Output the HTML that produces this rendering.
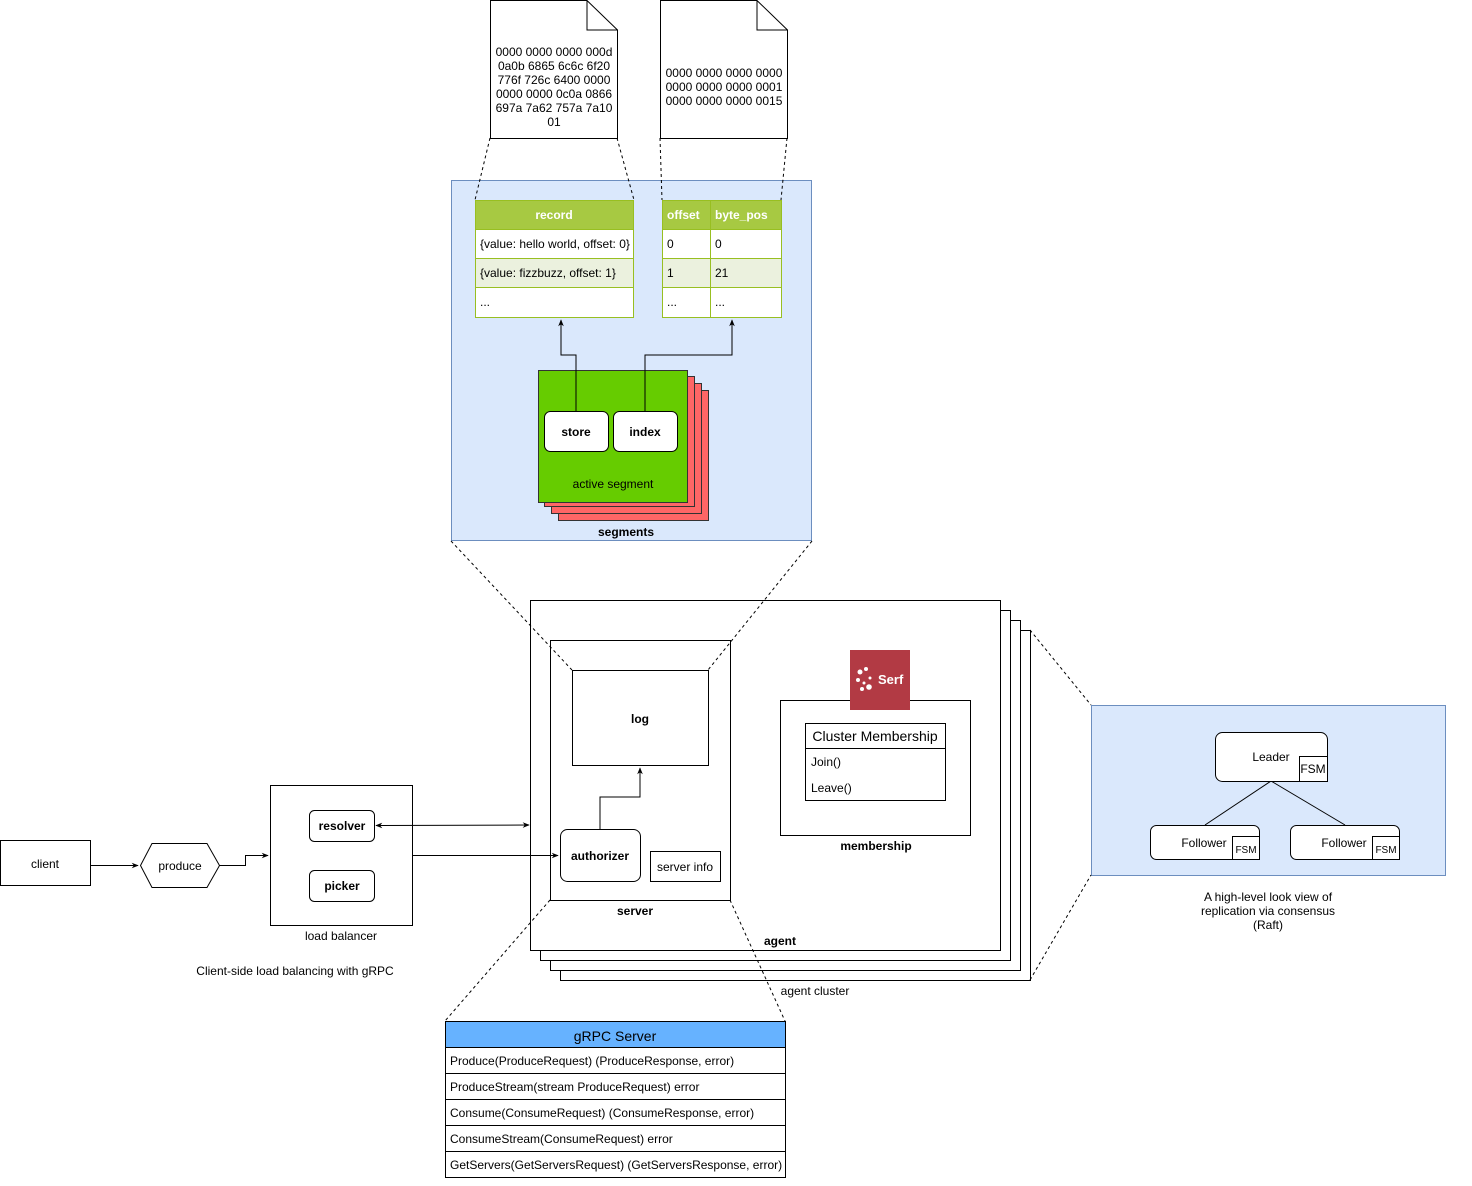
<!DOCTYPE html>
<html><head><meta charset="utf-8"><style>
html,body{margin:0;padding:0;background:#fff;}
svg text{font-family:"Liberation Sans",Arial,sans-serif;}
</style></head><body>
<svg width="1472" height="1181" xmlns="http://www.w3.org/2000/svg" font-size="12">
<defs>
<marker id="ar" viewBox="0 0 10 10" refX="9" refY="5" markerWidth="7" markerHeight="7" orient="auto-start-reverse"><path d="M0,1 L10,5 L0,9 L3,5 z" fill="#000"/></marker>
</defs>
<!-- docs -->
<path d="M490.5,0.5 H587 L617.5,30 V138.5 H490.5 Z" fill="#fff" stroke="#000"/>
<path d="M587,0.5 V30 H617.5" fill="none" stroke="#000"/>
<g font-size="12" text-anchor="middle">
<text x="554" y="56">0000 0000 0000 000d</text>
<text x="554" y="70">0a0b 6865 6c6c 6f20</text>
<text x="554" y="84">776f 726c 6400 0000</text>
<text x="554" y="98">0000 0000 0c0a 0866</text>
<text x="554" y="112">697a 7a62 757a 7a10</text>
<text x="554" y="126">01</text>
</g>
<path d="M660.5,0.5 H757 L787.5,30 V138.5 H660.5 Z" fill="#fff" stroke="#000"/>
<path d="M757,0.5 V30 H787.5" fill="none" stroke="#000"/>
<g font-size="12" text-anchor="middle">
<text x="724" y="77">0000 0000 0000 0000</text>
<text x="724" y="91">0000 0000 0000 0001</text>
<text x="724" y="105">0000 0000 0000 0015</text>
</g>
<!-- blue panel -->
<rect x="451.5" y="180.5" width="360" height="360" fill="#dae8fc" stroke="#6c8ebf"/>
<!-- record table -->
<g stroke="#98bf21">
<rect x="475.5" y="200.5" width="158" height="29" fill="#a7c942"/>
<rect x="475.5" y="229.5" width="158" height="29" fill="#fff"/>
<rect x="475.5" y="258.5" width="158" height="29" fill="#ebf1de"/>
<rect x="475.5" y="287.5" width="158" height="30" fill="#fff"/>
<rect x="662.5" y="200.5" width="119" height="29" fill="#a7c942"/>
<rect x="662.5" y="229.5" width="119" height="29" fill="#fff"/>
<rect x="662.5" y="258.5" width="119" height="29" fill="#ebf1de"/>
<rect x="662.5" y="287.5" width="119" height="30" fill="#fff"/>
<line x1="710.5" y1="200" x2="710.5" y2="317"/>
</g>
<g font-size="12">
<text x="554" y="219" text-anchor="middle" fill="#fff" font-weight="bold">record</text>
<text x="480" y="248">{value: hello world, offset: 0}</text>
<text x="480" y="277">{value: fizzbuzz, offset: 1}</text>
<text x="480" y="306">...</text>
<text x="667" y="219" fill="#fff" font-weight="bold">offset</text>
<text x="715" y="219" fill="#fff" font-weight="bold">byte_pos</text>
<text x="667" y="248">0</text><text x="715" y="248">0</text>
<text x="667" y="277">1</text><text x="715" y="277">21</text>
<text x="667" y="306">...</text><text x="715" y="306">...</text>
</g>
<!-- segments -->
<g stroke="#333">
<rect x="558.5" y="390.5" width="150" height="130" fill="#ff6666"/>
<rect x="551.5" y="383.5" width="150" height="130" fill="#ff6666"/>
<rect x="544.5" y="376.5" width="150" height="130" fill="#ff6666"/>
<rect x="538.5" y="370.5" width="149" height="132" fill="#66cc00"/>
</g>
<polyline points="576,411 576,355 561,355 561,320" fill="none" stroke="#000" marker-end="url(#ar)"/>
<polyline points="645,411 645,355 732,355 732,320" fill="none" stroke="#000" marker-end="url(#ar)"/>
<rect x="544.5" y="411.5" width="64" height="40" rx="6" fill="#fff" stroke="#000"/>
<rect x="613.5" y="411.5" width="64" height="40" rx="6" fill="#fff" stroke="#000"/>
<text x="576" y="436" text-anchor="middle" font-weight="bold">store</text>
<text x="645" y="436" text-anchor="middle" font-weight="bold">index</text>
<text x="613" y="488" text-anchor="middle">active segment</text>
<text x="626" y="536" text-anchor="middle" font-weight="bold">segments</text>
<!-- agent stack -->
<g fill="#fff" stroke="#000">
<rect x="560.5" y="630.5" width="470" height="350"/>
<rect x="550.5" y="620.5" width="470" height="350"/>
<rect x="540.5" y="610.5" width="470" height="350"/>
<rect x="530.5" y="600.5" width="470" height="350"/>
<rect x="550.5" y="640.5" width="180" height="260"/>
<rect x="572.5" y="670.5" width="136" height="95"/>
<rect x="560.5" y="829.5" width="80" height="52" rx="7"/>
<rect x="650.5" y="851.5" width="70" height="30"/>
<rect x="780.5" y="700.5" width="190" height="135"/>
<rect x="805.5" y="723.5" width="140" height="77"/>
</g>
<line x1="805" y1="748.5" x2="945" y2="748.5" stroke="#000"/>
<polyline points="600,829 600,797 640,797 640,768" fill="none" stroke="#000" marker-end="url(#ar)"/>
<text x="640" y="723" text-anchor="middle" font-weight="bold">log</text>
<text x="600" y="860" text-anchor="middle" font-weight="bold">authorizer</text>
<text x="685" y="871" text-anchor="middle">server info</text>
<text x="635" y="915" text-anchor="middle" font-weight="bold">server</text>
<text x="780" y="945" text-anchor="middle" font-weight="bold">agent</text>
<text x="815" y="995" text-anchor="middle">agent cluster</text>
<text x="875" y="741" text-anchor="middle" font-size="14">Cluster Membership</text>
<text x="811" y="766">Join()</text>
<text x="811" y="792">Leave()</text>
<text x="876" y="850" text-anchor="middle" font-weight="bold">membership</text>
<rect x="850" y="650" width="60" height="60" fill="#b23a44"/>
<g fill="#fff"><circle cx="860" cy="672" r="2.5"/><circle cx="866" cy="669" r="2"/><circle cx="858" cy="680" r="2"/><circle cx="864" cy="683" r="1.5"/><circle cx="869" cy="687" r="2.8"/><circle cx="862" cy="689" r="2"/><circle cx="870" cy="678" r="1.5"/></g>
<text x="878" y="684" fill="#fff" font-size="13" font-weight="bold">Serf</text>
<!-- raft -->
<rect x="1091.5" y="705.5" width="354" height="170" fill="#dae8fc" stroke="#6c8ebf"/>
<line x1="1271" y1="781" x2="1205" y2="825" stroke="#000"/>
<line x1="1271" y1="781" x2="1345" y2="825" stroke="#000"/>
<g fill="#fff" stroke="#000">
<rect x="1215.5" y="732.5" width="112" height="49" rx="7"/>
<rect x="1299.5" y="756.5" width="28" height="25"/>
<rect x="1150.5" y="825.5" width="109" height="34" rx="6"/>
<rect x="1232.5" y="836.5" width="27" height="23"/>
<rect x="1290.5" y="825.5" width="109" height="34" rx="6"/>
<rect x="1372.5" y="836.5" width="27" height="23"/>
</g>
<text x="1271" y="761" text-anchor="middle">Leader</text>
<text x="1313" y="773" text-anchor="middle">FSM</text>
<text x="1204" y="847" text-anchor="middle">Follower</text>
<text x="1246" y="853" text-anchor="middle" font-size="10">FSM</text>
<text x="1344" y="847" text-anchor="middle">Follower</text>
<text x="1386" y="853" text-anchor="middle" font-size="10">FSM</text>
<g text-anchor="middle"><text x="1268" y="901">A high-level look view of</text><text x="1268" y="915">replication via consensus</text><text x="1268" y="929">(Raft)</text></g>
<!-- left -->
<rect x="0.5" y="840.5" width="90" height="45" fill="#fff" stroke="#000"/>
<text x="45" y="868" text-anchor="middle">client</text>
<polygon points="152,843.5 207,843.5 219.5,865.5 207,887.5 152,887.5 140.5,865.5" fill="#fff" stroke="#000"/>
<text x="180" y="870" text-anchor="middle">produce</text>
<line x1="90" y1="865.5" x2="138" y2="865.5" stroke="#000" marker-end="url(#ar)"/>
<polyline points="219,865.5 245.5,865.5 245.5,855.5 268,855.5" fill="none" stroke="#000" marker-end="url(#ar)"/>
<rect x="270.5" y="785.5" width="142" height="140" fill="#fff" stroke="#000"/>
<rect x="309.5" y="810.5" width="65" height="31" rx="5" fill="#fff" stroke="#000"/>
<rect x="309.5" y="870.5" width="65" height="31" rx="5" fill="#fff" stroke="#000"/>
<text x="342" y="830" text-anchor="middle" font-weight="bold">resolver</text>
<text x="342" y="890" text-anchor="middle" font-weight="bold">picker</text>
<text x="341" y="940" text-anchor="middle">load balancer</text>
<line x1="376" y1="825.5" x2="529" y2="825" stroke="#000" marker-start="url(#ar)" marker-end="url(#ar)"/>
<line x1="413" y1="855.5" x2="558" y2="855.5" stroke="#000" marker-end="url(#ar)"/>
<text x="295" y="975" text-anchor="middle">Client-side load balancing with gRPC</text>
<!-- grpc -->
<rect x="445.5" y="1021.5" width="340" height="26" fill="#66b2ff" stroke="#000"/>
<g fill="#fff" stroke="#000">
<rect x="445.5" y="1047.5" width="340" height="26"/>
<rect x="445.5" y="1073.5" width="340" height="26"/>
<rect x="445.5" y="1099.5" width="340" height="26"/>
<rect x="445.5" y="1125.5" width="340" height="26"/>
<rect x="445.5" y="1151.5" width="340" height="26"/>
</g>
<text x="615" y="1041" text-anchor="middle" font-size="14">gRPC Server</text>
<text x="450" y="1065">Produce(ProduceRequest) (ProduceResponse, error)</text>
<text x="450" y="1091">ProduceStream(stream ProduceRequest) error</text>
<text x="450" y="1117">Consume(ConsumeRequest) (ConsumeResponse, error)</text>
<text x="450" y="1143">ConsumeStream(ConsumeRequest) error</text>
<text x="450" y="1169">GetServers(GetServersRequest) (GetServersResponse, error)</text>
<!-- dashed connectors on top -->
<g stroke="#000" stroke-dasharray="3,3" fill="none">
<line x1="490" y1="138" x2="475" y2="200"/><line x1="617" y1="138" x2="634" y2="200"/>
<line x1="660" y1="138" x2="662" y2="200"/><line x1="787" y1="138" x2="781" y2="200"/>
<line x1="451" y1="541" x2="572" y2="670"/><line x1="812" y1="541" x2="708" y2="670"/>
<line x1="1030" y1="630" x2="1091" y2="705"/><line x1="1030" y1="980" x2="1091" y2="875"/>
<line x1="550" y1="900" x2="445" y2="1021"/><line x1="730" y1="900" x2="785" y2="1021"/>
</g>
</svg>
</body></html>
